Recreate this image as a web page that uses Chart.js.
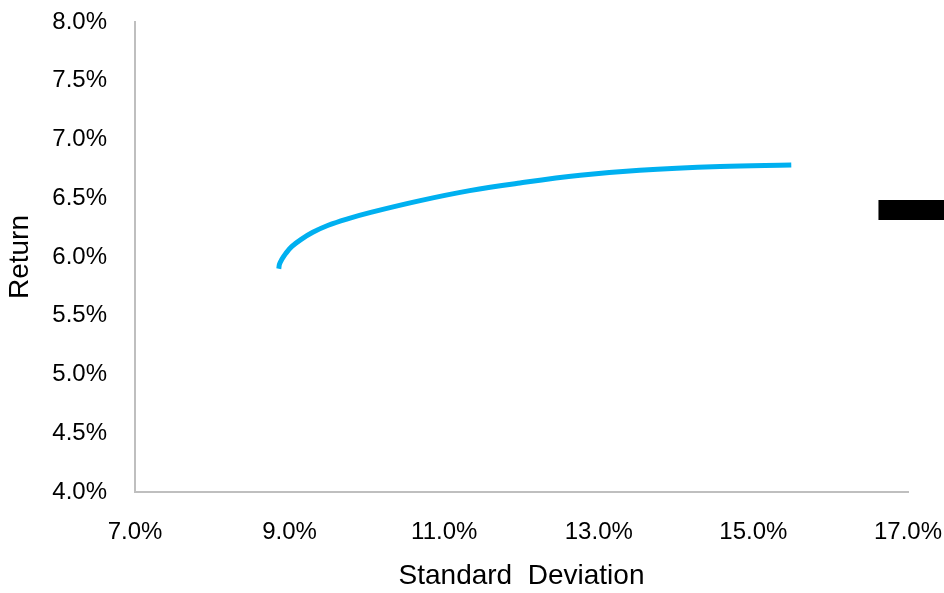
<!DOCTYPE html>
<html>
<head>
<meta charset="utf-8">
<script src="https://cdn.jsdelivr.net/npm/chart.js@4/dist/chart.umd.min.js"></script>
<style>
html,body{margin:0;padding:0;background:#fff;}
canvas{display:block;}
</style>
</head>
<body>
<canvas id="c" width="944" height="593"></canvas>
<script>
// Efficient frontier (standard deviation %, return %)
const frontierRisk   = [8.86, 8.87, 8.90, 8.95, 9.03, 9.15, 9.30, 9.50, 9.75, 10.05, 10.69, 11.33, 11.98, 12.76, 13.53, 14.57, 15.49];
const frontierReturn = [5.90, 5.94, 5.98, 6.03, 6.09, 6.15, 6.21, 6.27, 6.325, 6.38, 6.48, 6.565, 6.63, 6.695, 6.738, 6.77, 6.783];
// Single marker at right edge
const markerRisk   = [17.2];
const markerReturn = [6.40];
// Axis ranges / ticks
const xTicks = [7, 9, 11, 13, 15, 17];
const yTicks = [4.0, 4.5, 5.0, 5.5, 6.0, 6.5, 7.0, 7.5, 8.0];
const xTitle = 'Standard  Deviation';
const yTitle = 'Return';

const frontierData = frontierRisk.map((x, i) => ({x: x, y: frontierReturn[i]}));
const markerData = markerRisk.map((x, i) => ({x: x, y: markerReturn[i]}));

const FONT = "'Liberation Sans', Arial, sans-serif";

function zeroPad(s) {
  s.paddingLeft = 0; s.paddingRight = 0; s.paddingTop = 0; s.paddingBottom = 0;
}

new Chart(document.getElementById('c'), {
  type: 'scatter',
  data: {
    datasets: [
      {
        data: frontierData,
        showLine: true,
        borderColor: '#00B0F0',
        backgroundColor: '#00B0F0',
        borderWidth: 5,
        pointRadius: 0,
        tension: 0.4,
        borderCapStyle: 'butt'
      },
      {
        data: markerData,
        showLine: false,
        pointStyle: 'line',
        pointRadius: 45,
        pointBorderWidth: 20,
        pointBorderColor: '#000000',
        pointBackgroundColor: '#000000',
        clip: false
      }
    ]
  },
  options: {
    responsive: false,
    animation: false,
    devicePixelRatio: 1,
    layout: { autoPadding: false, padding: { top: 22, right: 36, left: 0, bottom: 0 } },
    plugins: { legend: { display: false }, tooltip: { enabled: false } },
    scales: {
      x: {
        type: 'linear',
        min: xTicks[0],
        max: xTicks[xTicks.length - 1],
        afterBuildTicks: (s) => { s.ticks = xTicks.map(v => ({value: v})); },
        afterFit: (s) => { s.height = 101; zeroPad(s); },
        grid: { display: false, drawTicks: false },
        border: { display: true, color: '#BFBFBF', width: 2 },
        ticks: {
          color: '#000',
          padding: 26,
          maxRotation: 0,
          autoSkip: false,
          font: { family: FONT, size: 24 },
          callback: (v) => Number(v).toFixed(1) + '%'
        },
        title: {
          display: true,
          text: xTitle,
          color: '#000',
          padding: { top: 0, bottom: 0 },
          font: { family: FONT, size: 28 }
        }
      },
      y: {
        type: 'linear',
        min: yTicks[0],
        max: yTicks[yTicks.length - 1],
        afterBuildTicks: (s) => { s.ticks = yTicks.map(v => ({value: v})); },
        afterFit: (s) => { s.width = 135; zeroPad(s); },
        grid: { display: false, drawTicks: false },
        border: { display: true, color: '#BFBFBF', width: 2 },
        ticks: {
          color: '#000',
          padding: 28,
          autoSkip: false,
          font: { family: FONT, size: 24 },
          callback: (v) => Number(v).toFixed(1) + '%'
        },
        title: {
          display: true,
          text: yTitle,
          color: '#000',
          padding: { top: 3, bottom: 0 },
          font: { family: FONT, size: 28 }
        }
      }
    }
  }
});
</script>
</body>
</html>
